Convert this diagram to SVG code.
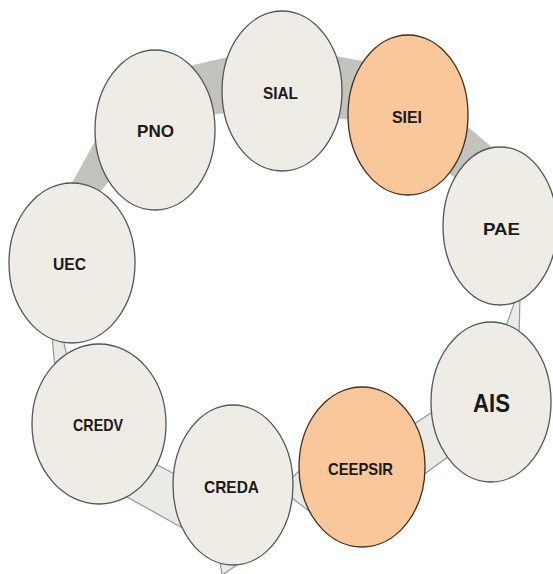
<svg xmlns="http://www.w3.org/2000/svg" width="553" height="574" viewBox="0 0 553 574">
  <style>
    .band-dark { fill: #c3c2bc; stroke: none; }
    .band-light { fill: #ebeae4; stroke: #8a98a6; stroke-width: 1.2; stroke-linejoin: round; }
    .node-light { fill: #eeece5; stroke: #4f575e; stroke-width: 1.3; }
    .node-orange { fill: #f9c79a; stroke: #3d2f22; stroke-width: 1.3; }
    .label { font-family: "Liberation Sans", Arial, sans-serif; font-weight: bold; font-size: 17px; fill: #1a1a1a; text-anchor: middle; }
    .label-big { font-size: 26px; }
  </style>
  <rect width="553" height="574" fill="#ffffff"/>
  <g id="connectors">
    <polygon class="band-dark" points="68,190 98,136 116,173 95,198"/>
    <polygon class="band-dark" points="185,67 232,56 235,112 210,115"/>
    <polygon class="band-dark" points="330,55 368,62 352,120 335,118"/>
    <polygon class="band-dark" points="460,120 495,150 460,182 445,170"/>
    <polygon class="band-light" points="517,295 520,295 519,340 503,335"/>
    <polygon class="band-light" points="405,430 440,407 460,448 415,481"/>
    <polygon class="band-light" points="282,488 312,458 318,518 283,491"/>
    <polygon class="band-light" points="150,461 180,477 195,535 120,493"/>
    <polygon class="band-light" points="52,335 62,335 68,360 55,370"/>
    <polygon class="band-light" points="219,555 222,575 243,561"/>
  </g>
  <g id="node-sial">
    <ellipse class="node-light" cx="282" cy="91" rx="60" ry="80"/>
    <text class="label" x="280.5" y="99" textLength="35" lengthAdjust="spacingAndGlyphs">SIAL</text>
  </g>
  <g id="node-siei">
    <ellipse class="node-orange" cx="408" cy="115" rx="60" ry="80"/>
    <text class="label" x="407" y="123" textLength="30" lengthAdjust="spacingAndGlyphs">SIEI</text>
  </g>
  <g id="node-pno">
    <ellipse class="node-light" cx="155" cy="130" rx="60" ry="80"/>
    <text class="label" x="155.5" y="137" textLength="37" lengthAdjust="spacingAndGlyphs">PNO</text>
  </g>
  <g id="node-uec">
    <ellipse class="node-light" cx="72" cy="263" rx="63" ry="80"/>
    <text class="label" x="69.5" y="270" textLength="33" lengthAdjust="spacingAndGlyphs">UEC</text>
  </g>
  <g id="node-pae">
    <ellipse class="node-light" cx="500" cy="226" rx="57" ry="79"/>
    <text class="label" x="501.5" y="235" textLength="37" lengthAdjust="spacingAndGlyphs">PAE</text>
  </g>
  <g id="node-ais">
    <ellipse class="node-light" cx="491" cy="402" rx="60" ry="80"/>
    <text class="label label-big" x="491.5" y="412" textLength="37" lengthAdjust="spacingAndGlyphs">AIS</text>
  </g>
  <g id="node-ceepsir">
    <ellipse class="node-orange" cx="362" cy="467" rx="63" ry="80"/>
    <text class="label" x="360.5" y="475" textLength="65" lengthAdjust="spacingAndGlyphs">CEEPSIR</text>
  </g>
  <g id="node-creda">
    <ellipse class="node-light" cx="233" cy="485" rx="60" ry="80"/>
    <text class="label" x="231.5" y="493" textLength="55" lengthAdjust="spacingAndGlyphs">CREDA</text>
  </g>
  <g id="node-credv">
    <ellipse class="node-light" cx="99" cy="424" rx="67" ry="80"/>
    <text class="label" x="98" y="431" textLength="50" lengthAdjust="spacingAndGlyphs">CREDV</text>
  </g>
</svg>
